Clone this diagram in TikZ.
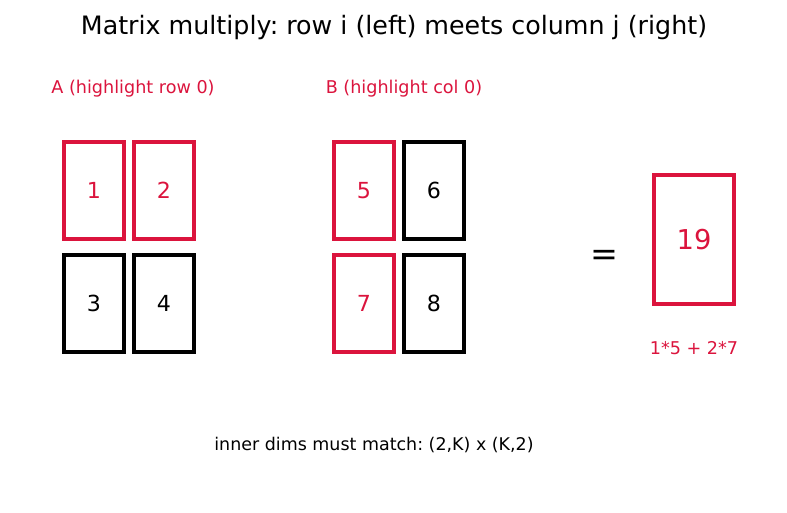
\documentclass[tikz,border=0pt]{standalone}
\usepackage{fontspec}
\setmainfont{DejaVu Sans}
\frenchspacing
\begin{document}
\begin{tikzpicture}[x=0.75pt,y=-0.75pt]
  % colors
  \definecolor{kCrimson}{rgb}{0.86,0.08,0.24}
  % styles
  \tikzset{
    cell/.style={draw=black,line width=3pt,minimum width=45pt,minimum height=72.75pt,inner sep=0pt,font=\fontsize{16.6}{20}\selectfont},
    hcell/.style={cell,draw=kCrimson,text=kCrimson},
    lbl/.style={text=kCrimson,font=\fontsize{13.2}{16}\selectfont}
  }
  \useasboundingbox (0,0) rectangle (787,512);
  % title
  \node (title) at (394,28) {\fontsize{19}{23}\selectfont Matrix multiply: row i (left) meets column j (right)};
  % labels
  \node[lbl] (la) at (133,89) {A (highlight row 0)};
  \node[lbl] (lb) at (404,89) {B (highlight col 0)};
  % matrix A
  \node[hcell] (a11) at (94,190.5) {1};
  \node[hcell] (a12) at (164,190.5) {2};
  \node[cell] (a21) at (94,303.5) {3};
  \node[cell] (a22) at (164,303.5) {4};
  % matrix B
  \node[hcell] (b11) at (364,190.5) {5};
  \node[cell] (b12) at (434,190.5) {6};
  \node[hcell] (b21) at (364,303.5) {7};
  \node[cell] (b22) at (434,303.5) {8};
  % result
  \node (eq) at (604,258) {\fontsize{25}{30}\selectfont =};
  \node[hcell,minimum width=60pt,minimum height=96.75pt,font=\fontsize{20.5}{24}\selectfont] (c11) at (694,239.5) {19};
  \node[lbl] (sum) at (694,348) {1*5 + 2*7};
  % note
  \node[font=\fontsize{13.1}{16}\selectfont] (note) at (374,445) {inner dims must match: (2,K) x (K,2)};
\end{tikzpicture}
\end{document}
